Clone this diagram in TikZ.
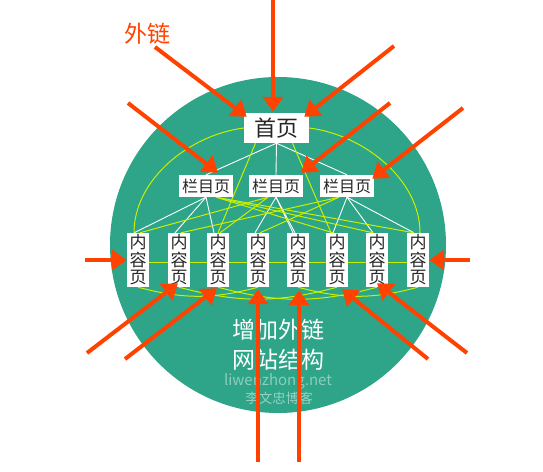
\documentclass[tikz,border=0pt]{standalone}
\usepackage{fontspec}
\newfontfamily\cjk{Noto Sans CJK SC}
\usetikzlibrary{arrows.meta}
\pgfdeclarelayer{bg}
\pgfdeclarelayer{links}
\pgfsetlayers{bg,links,main}
\definecolor{teal1}{RGB}{46,164,136}
\definecolor{orng}{RGB}{255,66,0}
\definecolor{ylw}{RGB}{200,240,0}
\begin{document}
\begin{tikzpicture}[x=1pt,y=-1pt,
  box/.style={fill=white, inner sep=0pt, text=black!85},
  homebox/.style={box, minimum width=65pt, minimum height=30pt, font=\cjk\fontsize{22}{24}\selectfont},
  secbox/.style={box, minimum width=54pt, minimum height=22pt, font=\cjk\fontsize{16}{18}\selectfont},
  pagebox/.style={box, minimum width=22pt, minimum height=54pt, align=center, font=\cjk\fontsize{17}{17.5}\selectfont},
  wl/.style={draw=white, line width=0.9pt},
  yl/.style={draw=ylw, line width=1pt},
  arr/.style={draw=orng, line width=4pt, -{Triangle[length=15pt,width=20pt]}},
  bigtxt/.style={text=white, font=\cjk\fontsize{23}{25}\selectfont},
]
\useasboundingbox (0,0) rectangle (543,471);
\begin{pgfonlayer}{bg}
\fill[teal1] (278,245) circle (168pt);
\end{pgfonlayer}

% nodes
\node[homebox] (home) at (276.5,128) {首页};
\node[secbox] (s1) at (206,186) {栏目页};
\node[secbox] (s2) at (276,186) {栏目页};
\node[secbox] (s3) at (347,186) {栏目页};
\foreach \i/\x in {1/138,2/179,3/218,4/258,5/298,6/337,7/377,8/418}
  \node[pagebox] (c\i) at (\x,260) {内\\容\\页};

\node[text=orng, font=\cjk\fontsize{23}{25}\selectfont] (wlabel) at (147,34) {外链};
\node[bigtxt] (t1) at (278,330) {增加外链};
\node[bigtxt] (t2) at (278,360) {网站结构};
\node[text=white, text opacity=0.45, font=\cjk\fontsize{15}{16}\selectfont] (t3) at (278,381) {liwenzhong.net};
\node[text=white, text opacity=0.5, font=\cjk\fontsize{13.5}{15}\selectfont] (t4) at (279,398) {李文忠博客};

% links
\begin{pgfonlayer}{links}
\foreach \s in {s1,s2,s3} \draw[wl] (home.south) -- (\s.north);
\foreach \c in {c1,c2,c3} \draw[wl] (s1.south) -- ([shift={(-4,0)}]\c.north);
\foreach \c in {c4,c5} \draw[wl] (s2.south) -- ([shift={(-3,0)}]\c.north);
\draw[wl] (s2.south) -- ([shift={(-5,0)}]c5.north);
\foreach \c in {c6,c7,c8} \draw[wl] (s3.south) -- ([shift={(-4,0)}]\c.north);

\draw[yl] (home.west) .. controls +(-55,7) and +(0,-53) .. ([shift={(-4,0)}]c1.north);
\draw[yl] (home.east) .. controls +(55,7) and +(0,-53) .. ([shift={(2,0)}]c8.north);
\draw[yl] ([shift={(-21,0)}]home.south) -- (c3.north);
\draw[yl] ([shift={(16,0)}]home.south) -- ([shift={(-6,0)}]c6.north);
\foreach \c in {c6,c7,c8} \draw[yl] ([shift={(10,0)}]s1.south) -- ([shift={(-4,0)}]\c.north);
\foreach \c in {c1,c3} \draw[yl] ([shift={(-8,0)}]s2.south) -- ([shift={(2,0)}]\c.north);
\foreach \c in {c2,c4} \draw[yl] ([shift={(-8,0)}]s3.south) -- ([shift={(2,0)}]\c.north);
\draw[yl] ([shift={(0,2)}]c1.center) -- ([shift={(0,2)}]c8.center);
\draw[yl] (c1.south) to[bend right=15] (c4.south);
\draw[yl] (c2.south) to[bend right=15] (c6.south);
\draw[yl] (c3.south) to[bend right=15] (c7.south);
\draw[yl] (c5.south) to[bend right=15] (c8.south);
\end{pgfonlayer}

% arrows
\coordinate (a0) at (273,0);
\coordinate (a1) at (155,47);
\coordinate (a2) at (394,46);
\coordinate (a3) at (128,103);
\coordinate (a4) at (390,103);
\coordinate (a5) at (463,108);
\coordinate (a6) at (85,260);
\coordinate (a7) at (470,260);
\coordinate (a8) at (87,353);
\coordinate (a9) at (125,359);
\coordinate (a10) at (258,462);
\coordinate (a11) at (299,462);
\coordinate (a12) at (428,359);
\coordinate (a13) at (467,353);
\draw[arr] (a0) -- ([shift={(-3.5,-1)}]home.north);
\draw[arr] (a1) -- ([shift={(3,4)}]home.north west);
\draw[arr] (a2) -- ([shift={(-5,4)}]home.north east);
\draw[arr] (a3) -- ([shift={(12,-2)}]s1.north);
\draw[arr] (a4) -- ([shift={(-2,-2)}]s2.north east);
\draw[arr] (a5) -- ([shift={(-2,4)}]s3.north east);
\draw[arr] (a6) -- (c1.west);
\draw[arr] (a7) -- (c8.east);
\draw[arr] (a8) -- ([shift={(-1,-4)}]c2.south);
\draw[arr] (a9) -- ([shift={(-1,1)}]c3.south);
\draw[arr] (a10) -- ([shift={(0,2)}]c4.south);
\draw[arr] (a11) -- ([shift={(1,3)}]c5.south);
\draw[arr] (a12) -- ([shift={(5,2)}]c6.south);
\draw[arr] (a13) -- ([shift={(0,-4)}]c7.south);
\end{tikzpicture}
\end{document}
